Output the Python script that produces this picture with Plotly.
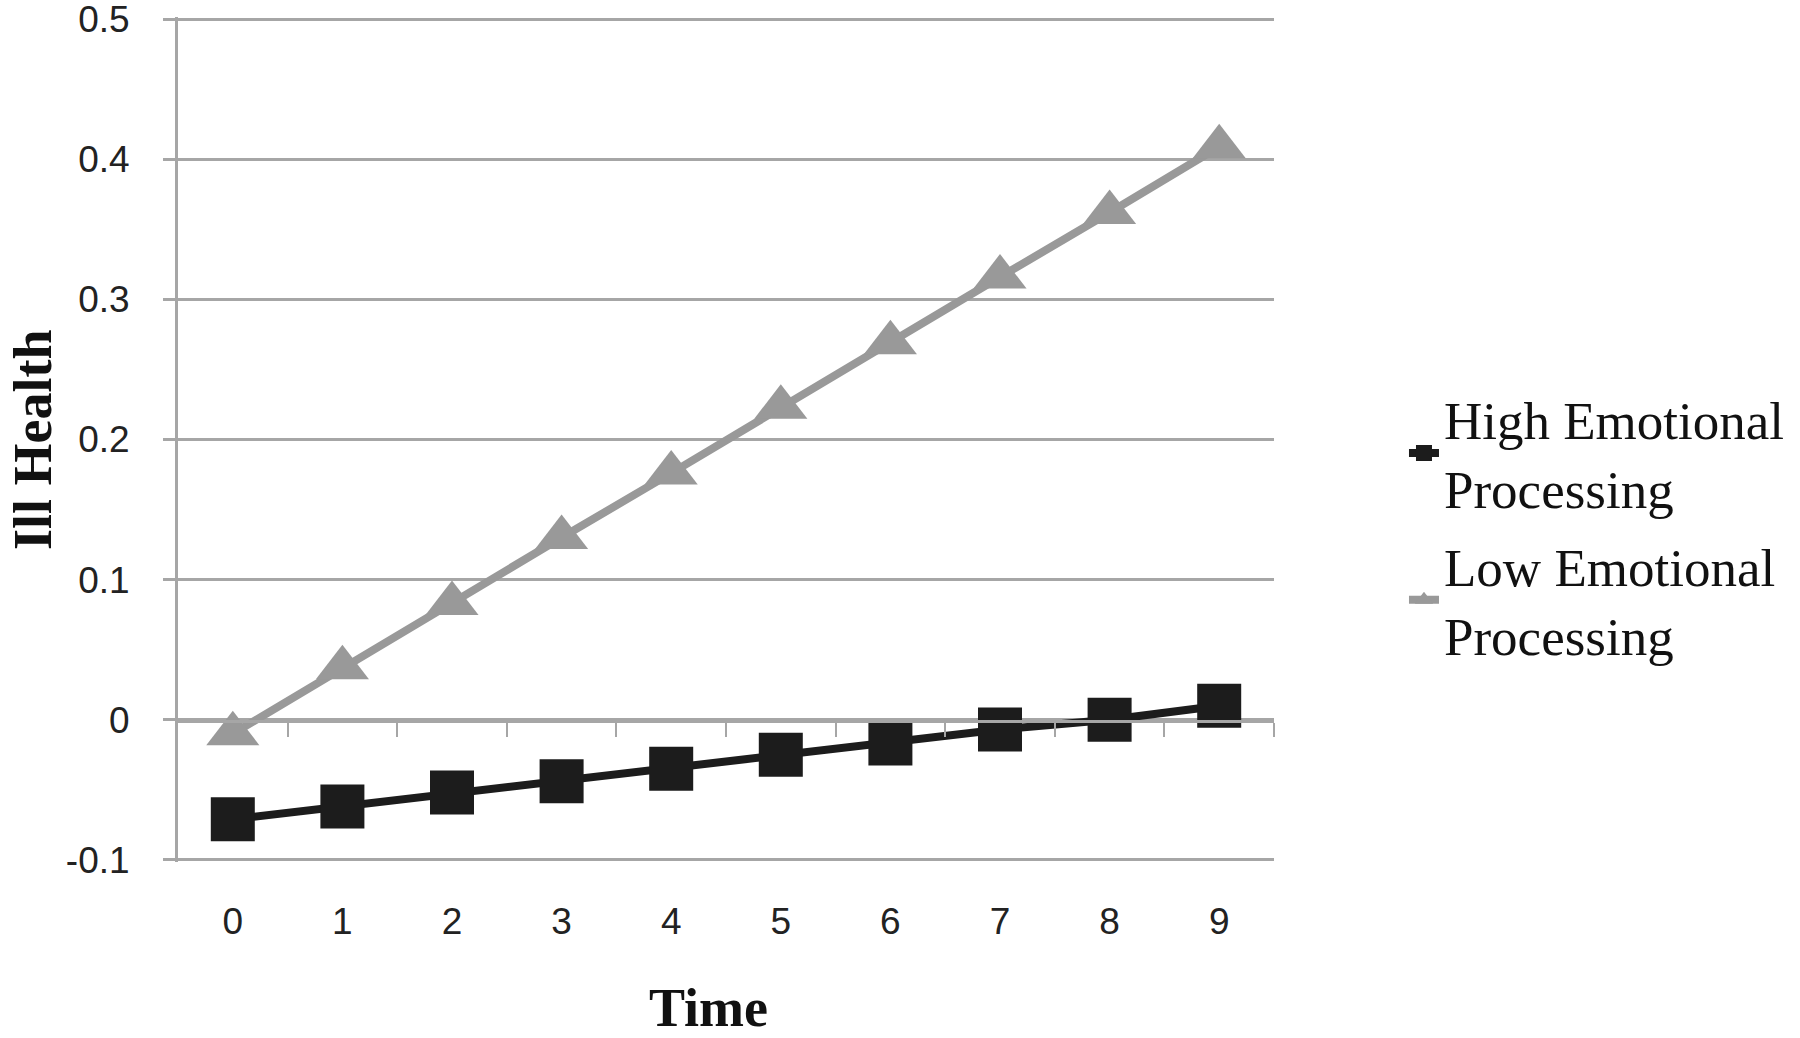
import plotly.graph_objects as go

time_points = [0, 1, 2, 3, 4, 5, 6, 7, 8, 9]
high_emotional = [-0.071, -0.062, -0.052, -0.044, -0.035, -0.025, -0.017, -0.007, 0.000, 0.010]
low_emotional = [-0.010, 0.037, 0.083, 0.130, 0.176, 0.223, 0.269, 0.316, 0.362, 0.409]
y_ticks = [-0.1, 0, 0.1, 0.2, 0.3, 0.4, 0.5]
y_tick_text = ["-0.1", "0", "0.1", "0.2", "0.3", "0.4", "0.5"]
series_names = ["High Emotional<br>Processing", "Low Emotional<br>Processing"]
x_title = "Time"
y_title = "Ill Health"

GRID = "#a6a6a6"
TICKFONT = dict(family="Liberation Sans, Arial, sans-serif", size=37, color="#222")
TITLEFONT = dict(family="Liberation Serif, Times New Roman, serif", size=54, color="#111")

fig = go.Figure()
fig.add_trace(go.Scatter(
    x=time_points, y=high_emotional, name=series_names[0], legendgroup="a",
    mode="lines+markers",
    line=dict(color="#1c1c1c", width=8),
    marker=dict(symbol="square", size=44, color="#1c1c1c"),
))
fig.add_trace(go.Scatter(
    x=time_points, y=low_emotional, name=series_names[1], legendgroup="b",
    mode="lines+markers",
    line=dict(color="#999999", width=8),
    marker=dict(symbol="triangle-up", size=46, color="#999999"),
))

fig.update_layout(
    width=1800, height=1038,
    margin=dict(l=178, r=526, t=17, b=176, autoexpand=False),
    paper_bgcolor="white", plot_bgcolor="white",
    showlegend=True,
    legend=dict(
        x=1.1186, xanchor="left", y=0.397, yanchor="middle",
        font=dict(family="Liberation Serif, Times New Roman, serif", size=53, color="#111"),
        tracegroupgap=6, bgcolor="rgba(0,0,0,0)",
    ),
    xaxis=dict(
        range=[-0.5, 9.5], tickvals=time_points,
        ticktext=[str(t) for t in time_points],
        showgrid=False, zeroline=False, showline=False,
        ticks="", tickfont=TICKFONT, ticklabelstandoff=34,
        fixedrange=True, automargin=False,
    ),
    xaxis2=dict(
        overlaying="x", matches="x", anchor="free", position=1/6, side="bottom",
        range=[-0.5, 9.5], tickvals=[t + 0.5 for t in time_points],
        showticklabels=False, showgrid=False, zeroline=False,
        showline=True, linecolor=GRID, linewidth=3,
        ticks="outside", ticklen=14, tickwidth=2, tickcolor=GRID,
        automargin=False,
    ),
    yaxis=dict(
        range=[-0.1016, 0.5016], tickvals=y_ticks, ticktext=y_tick_text,
        showgrid=True, gridcolor=GRID, gridwidth=3,
        zeroline=False, showline=True, linecolor=GRID, linewidth=3,
        ticks="outside", ticklen=12, tickwidth=3, tickcolor=GRID,
        tickfont=TICKFONT, ticklabelstandoff=26, ticklabeloverflow="allow",
        fixedrange=True, automargin=False,
    ),
    annotations=[
        dict(text="<b>" + x_title + "</b>", xref="paper", yref="paper",
             x=0.4836, y=-0.211, xanchor="center", yanchor="bottom",
             showarrow=False, font=TITLEFONT),
        dict(text="<b>" + y_title + "</b>", xref="paper", yref="paper",
             x=-0.1620, y=0.5, xanchor="left", yanchor="middle",
             textangle=-90, showarrow=False, font=TITLEFONT),
    ],
)
# invisible trace to bind xaxis2
fig.add_trace(go.Scatter(x=[time_points[0]], y=[high_emotional[0]], xaxis="x2",
                         mode="markers", marker=dict(opacity=0), showlegend=False,
                         hoverinfo="skip"))

fig.write_html("out.html", config={"displayModeBar": False},
               post_script="document.body.style.margin='0';")
